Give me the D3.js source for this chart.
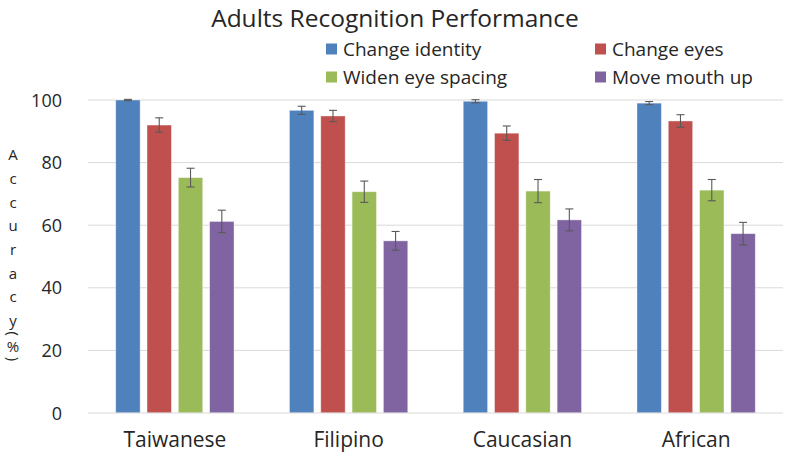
<!DOCTYPE html>
<html>
<head>
<meta charset="utf-8">
<script src="https://cdn.jsdelivr.net/npm/d3@7"></script>
<style>
  html, body { margin: 0; padding: 0; background: #fff; }
  svg { display: block; font-family: "Open Sans", sans-serif; }
</style>
</head>
<body>
<svg id="chart" width="786" height="461"></svg>
<script>
// ---- data ----
const title = "Adults Recognition Performance";
const yAxisTitle = "Accuracy(%)";
const categories = ["Taiwanese", "Filipino", "Caucasian", "African"];
const seriesNames = ["Change identity", "Change eyes", "Widen eye spacing", "Move mouth up"];
const seriesColors = ["#4F81BD", "#C0504D", "#9BBB59", "#8064A2"];
const changeIdentity  = [100.0, 96.7, 99.6, 99.0];
const changeEyes      = [92.0, 94.9, 89.4, 93.3];
const widenEyeSpacing = [75.2, 70.7, 70.9, 71.2];
const moveMouthUp     = [61.2, 55.0, 61.7, 57.3];
const errChangeIdentity  = [0.2, 1.3, 0.5, 0.5];
const errChangeEyes      = [2.3, 1.8, 2.3, 2.0];
const errWidenEyeSpacing = [3.0, 3.4, 3.7, 3.4];
const errMoveMouthUp     = [3.6, 3.0, 3.5, 3.6];
const yTicks = [0, 20, 40, 60, 80, 100];

const seriesValues = [changeIdentity, changeEyes, widenEyeSpacing, moveMouthUp];
const seriesErrors = [errChangeIdentity, errChangeEyes, errWidenEyeSpacing, errMoveMouthUp];

// ---- layout ----
const svg = d3.select("#chart");
const plot = { left: 88, right: 783, top: 100, bottom: 413 };

const x0 = d3.scaleBand().domain(categories)
  .range([plot.left, plot.right]).paddingInner(0.2794).paddingOuter(0.1397);
const x1 = d3.scaleBand().domain(seriesNames)
  .range([0, x0.bandwidth()]).paddingInner(0.22).paddingOuter(0.11);
const y = d3.scaleLinear().domain([0, 100]).range([plot.bottom, plot.top]);

// gridlines
svg.append("g").selectAll("line").data(yTicks.filter(d => d > 0)).join("line")
  .attr("x1", plot.left).attr("x2", plot.right)
  .attr("y1", d => y(d)).attr("y2", d => y(d))
  .attr("stroke", "#D9D9D9").attr("stroke-width", 1);

// y axis (labels only)
const yAxis = d3.axisLeft(y).tickValues(yTicks).tickSize(0).tickPadding(0);
const yg = svg.append("g").attr("transform", `translate(62,0)`).call(yAxis);
yg.select(".domain").remove();
yg.selectAll("text").attr("font-size", 18).attr("fill", "#262626")
  .attr("font-family", "'Open Sans', sans-serif").attr("dy", "0.34em");

// bars
const rows = categories.map((c, i) => seriesNames.map((s, j) => ({
  cat: c, series: s, value: seriesValues[j][i], err: seriesErrors[j][i], color: seriesColors[j]
})));

const groups = svg.append("g").selectAll("g").data(rows).join("g")
  .attr("transform", (d, i) => `translate(${x0(categories[i])},0)`);

groups.selectAll("rect").data(d => d).join("rect")
  .attr("x", d => x1(d.series))
  .attr("width", x1.bandwidth())
  .attr("y", d => y(d.value))
  .attr("height", d => y(0) - y(d.value))
  .attr("fill", d => d.color)
  .attr("stroke", "#ffffff").attr("stroke-opacity", 0.5).attr("stroke-width", 0.8);

// error bars
const eb = groups.selectAll("g.err").data(d => d).join("g").attr("class", "err");
const cap = 4;
eb.append("line")
  .attr("x1", d => x1(d.series) + x1.bandwidth() / 2)
  .attr("x2", d => x1(d.series) + x1.bandwidth() / 2)
  .attr("y1", d => y(d.value + d.err)).attr("y2", d => y(d.value - d.err));
eb.append("line")
  .attr("x1", d => x1(d.series) + x1.bandwidth() / 2 - cap)
  .attr("x2", d => x1(d.series) + x1.bandwidth() / 2 + cap)
  .attr("y1", d => y(d.value + d.err)).attr("y2", d => y(d.value + d.err));
eb.append("line")
  .attr("x1", d => x1(d.series) + x1.bandwidth() / 2 - cap)
  .attr("x2", d => x1(d.series) + x1.bandwidth() / 2 + cap)
  .attr("y1", d => y(d.value - d.err)).attr("y2", d => y(d.value - d.err));
eb.selectAll("line").attr("stroke", "#595959").attr("stroke-width", 1.1);

// x axis
svg.append("line").attr("x1", plot.left).attr("x2", plot.right)
  .attr("y1", y(0)).attr("y2", y(0)).attr("stroke", "#D9D9D9").attr("stroke-width", 1.2);
const xAxis = d3.axisBottom(x0).tickSize(0).tickPadding(0);
const xg = svg.append("g").attr("transform", `translate(0,${y(0)})`).call(xAxis);
xg.select(".domain").remove();
xg.selectAll("text").attr("font-size", 21).attr("fill", "#262626")
  .attr("font-family", "'Open Sans', sans-serif").attr("dy", "1.6em");

// title
svg.append("text").attr("x", 395).attr("y", 27).attr("text-anchor", "middle")
  .attr("font-size", 24.5).attr("fill", "#262626").text(title);

// legend
const legendPos = [[326, 49], [595, 49], [326, 77], [595, 77]];
const lg = svg.append("g").selectAll("g").data(seriesNames).join("g")
  .attr("transform", (d, i) => `translate(${legendPos[i][0]},${legendPos[i][1]})`);
lg.append("rect").attr("x", 0).attr("y", -5.5).attr("width", 11).attr("height", 11)
  .attr("fill", (d, i) => seriesColors[i]);
lg.append("text").attr("x", 17).attr("y", 0).attr("dy", "0.36em")
  .attr("font-size", 19).attr("fill", "#262626").text(d => d);

// y axis title: stacked characters, parentheses rotated
const yt = svg.append("g");
let cy = 155;
yAxisTitle.split("").forEach(ch => {
  const isParen = ch === "(" || ch === ")";
  const isPct = ch === "%";
  if (isParen || isPct) cy -= 11;
  const t = yt.append("text").attr("text-anchor", "middle")
    .attr("font-size", 15).attr("fill", "#262626").text(ch);
  if (isParen) {
    t.attr("transform", `translate(13,${cy}) rotate(90)`).attr("dy", "0.35em");
  } else {
    t.attr("x", 13).attr("y", cy).attr("dy", "0.35em");
  }
  cy += 23.7;
});
</script>
</body>
</html>
